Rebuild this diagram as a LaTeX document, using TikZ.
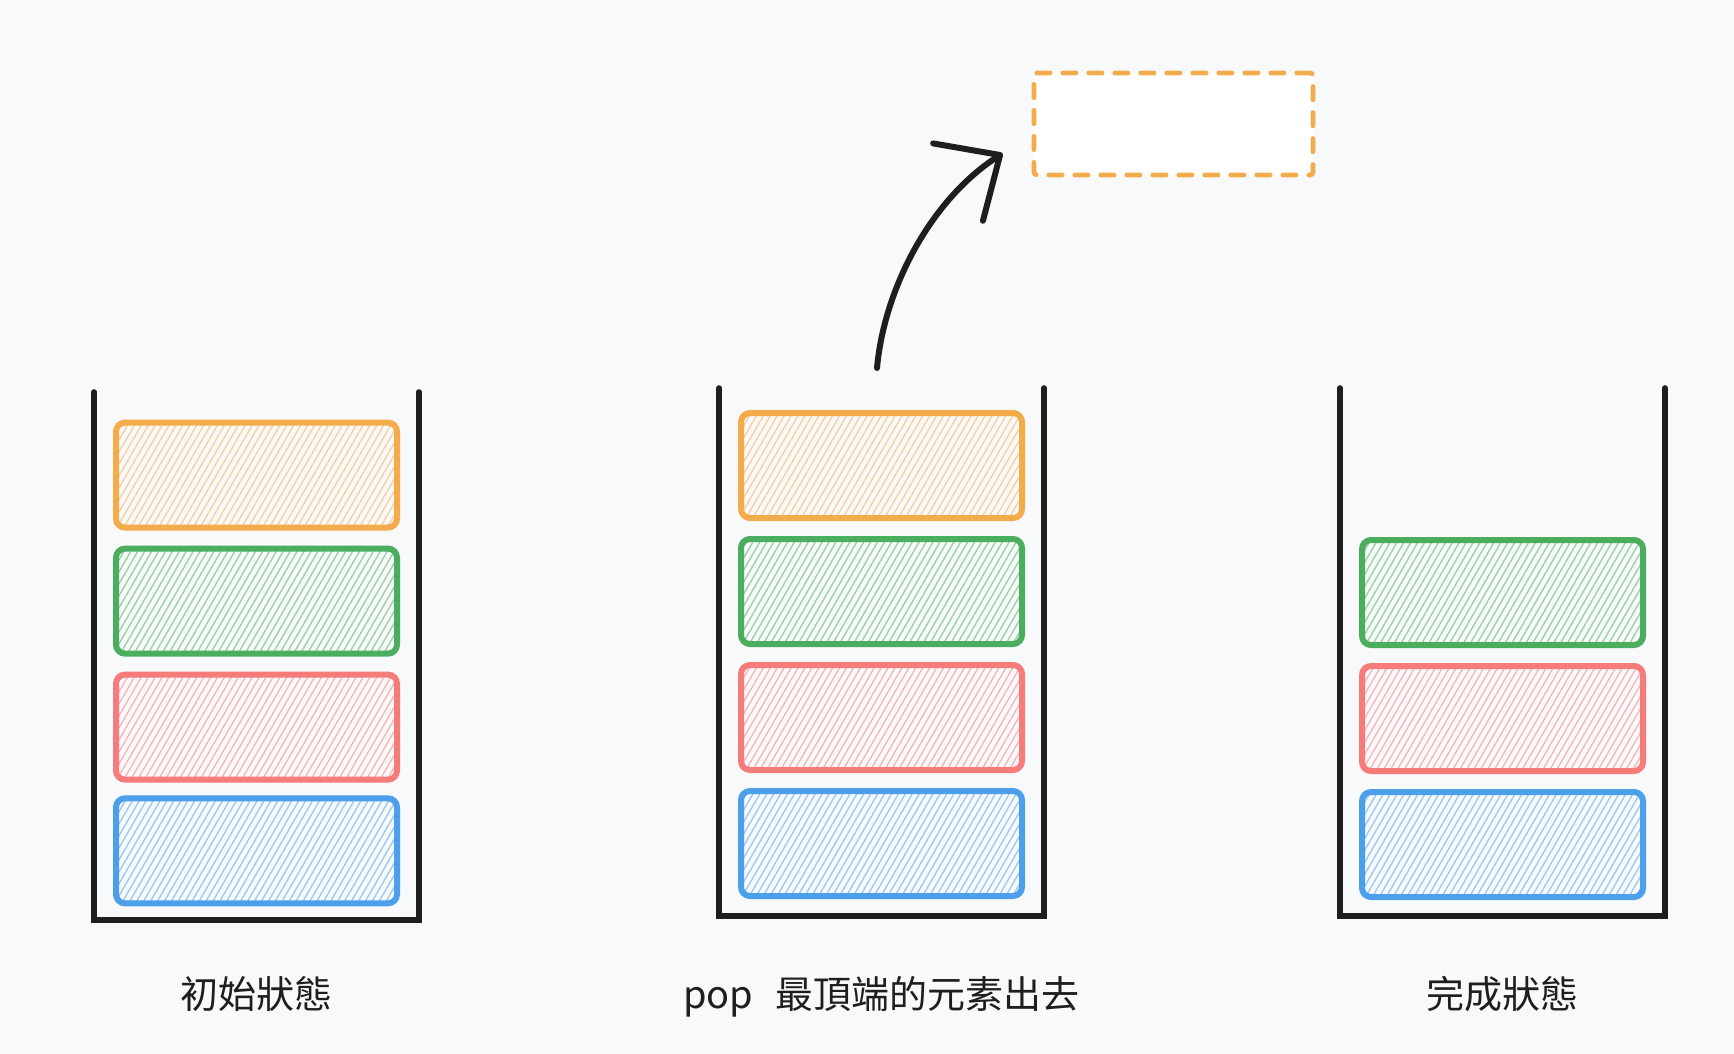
\documentclass[tikz,border=0pt]{standalone}
\usepackage{fontspec}
\setmainfont{Noto Sans CJK TC}
\usetikzlibrary{arrows.meta,positioning,patterns.meta,calc}

\definecolor{bgcol}{HTML}{F8F9FA}
\definecolor{inkcol}{HTML}{1E1E1E}
\definecolor{orangecol}{HTML}{F2AC4C}
\definecolor{greencol}{HTML}{4BAE5F}
\definecolor{redcol}{HTML}{F67B7B}
\definecolor{bluecol}{HTML}{4C9FEA}

\begin{document}
\begin{tikzpicture}[
        x=0.5pt, y=-0.5pt,
        font=\fontsize{19pt}{23pt}\selectfont,
        stackbox/.style={
            rectangle, inner sep=0pt, outer sep=0pt,
            minimum width=162.5pt, minimum height=264pt
        },
        wall/.style={draw=inkcol, line width=2.8pt, line cap=round, line join=miter},
        block/.style={
            rectangle, rounded corners=4.5pt, draw=#1, line width=3pt,
            pattern={Lines[angle=60, distance=3pt, line width=0.7pt]},
            pattern color=#1!55,
            minimum width=140.5pt, minimum height=52.5pt
        },
        slotbox/.style={
            rectangle, rounded corners=1.5pt, draw=orangecol, fill=white,
            line width=2.4pt, line cap=round, dash pattern=on 6.6pt off 6.4pt,
            minimum width=139.5pt, minimum height=51pt
        },
        poparrow/.style={
            draw=inkcol, line width=3pt, line cap=round,
            -{Straight Barb[length=25pt, width=46pt, round]}
        },
        lbl/.style={anchor=base, text=inkcol}
    ]
    % Background
    \fill[bgcol] (0,0) rectangle (1734,1054);

    % Stacks
    \node[stackbox] (s1) at (256.5,656) {};
    \node[stackbox] (s2) at (881.5,652) {};
    \node[stackbox] (s3) at (1502.5,652) {};

    \draw[wall] (s1.north west) -- (s1.south west) -- (s1.south east) -- (s1.north east);
    \draw[wall] (s2.north west) -- (s2.south west) -- (s2.south east) -- (s2.north east);
    \draw[wall] (s3.north west) -- (s3.south west) -- (s3.south east) -- (s3.north east);

    % Initial state
    \node[block=bluecol, above=8pt of s1.south] (a1) {};
    \node[block=redcol, above=7.5pt of a1] (b1) {};
    \node[block=greencol, above=7.5pt of b1] (c1) {};
    \node[block=orangecol, above=7.5pt of c1] (d1) {};

    % Pop
    \node[block=bluecol, above=8.5pt of s2.south] (a2) {};
    \node[block=redcol, above=7.5pt of a2] (b2) {};
    \node[block=greencol, above=7.5pt of b2] (c2) {};
    \node[block=orangecol, above=7.5pt of c2] (d2) {};

    % Final state
    \node[block=bluecol, above=8pt of s3.south] (a3) {};
    \node[block=redcol, above=7.5pt of a3] (b3) {};
    \node[block=greencol, above=7.5pt of b3] (c3) {};

    % Popped slot
    \node[slotbox] (slot) at (1173.5,124) {};
    \coordinate (popstart) at (877,368);
    \draw[poparrow] (popstart) .. controls +(7,-78) and +(-73,47) .. ($(slot.south west)+(-29,-24)$);

    % Labels
    \coordinate (capline) at (0,1008);
    \node[lbl] (cap1) at (s1.south |- capline) {初始狀態};
    \node[lbl] (cap2) at (s2.south |- capline) {pop\hspace{0.6em}最頂端的元素出去};
    \node[lbl] (cap3) at (s3.south |- capline) {完成狀態};
\end{tikzpicture}
\end{document}
